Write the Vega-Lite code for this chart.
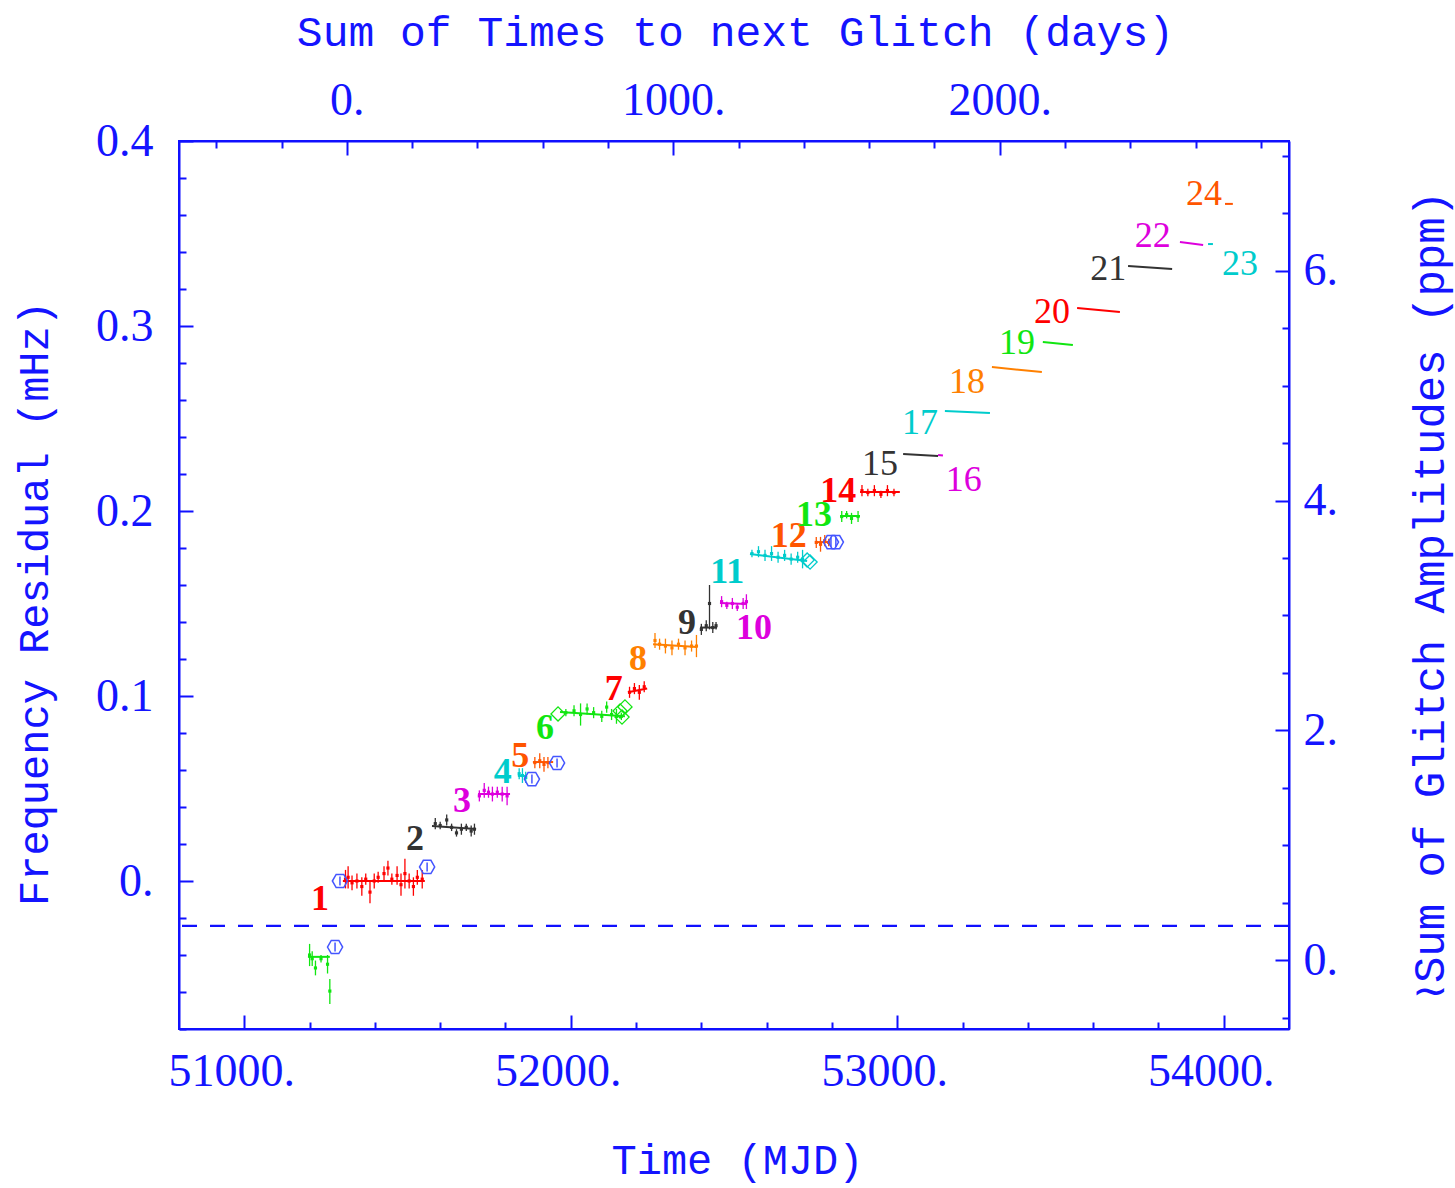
{
  "$schema": "https://vega.github.io/schema/vega-lite/v6.json",
  "width": 1110,
  "height": 888,
  "autosize": "none",
  "padding": {"left": 179, "top": 141, "right": 166, "bottom": 159},
  "background": "white",
  "config": {
    "view": {"stroke": "#1010ff", "strokeWidth": 2},
    "axis": {
      "grid": false,
      "domainColor": "#1010ff",
      "domainWidth": 2,
      "tickColor": "#1010ff",
      "tickWidth": 2,
      "labelColor": "#1414ff",
      "titleColor": "#1414ff",
      "labelFont": "Liberation Serif",
      "labelFontSize": 46,
      "labelFontWeight": "normal",
      "titleFont": "Liberation Mono",
      "titleFontSize": 42,
      "titleFontWeight": "normal",
      "labelFlush": false,
      "labelBound": false
    }
  },
  "datasets": {
    "fits": [
      {"seg": 0, "x1": 51195, "x2": 51262, "y1": -0.041, "y2": -0.041},
      {"seg": 1, "x1": 51302, "x2": 51553, "y1": 0.0, "y2": 0.0},
      {"seg": 2, "x1": 51575, "x2": 51710, "y1": 0.0297, "y2": 0.0281},
      {"seg": 3, "x1": 51716, "x2": 51814, "y1": 0.047, "y2": 0.047},
      {"seg": 4, "x1": 51838, "x2": 51866, "y1": 0.0568, "y2": 0.0568},
      {"seg": 5, "x1": 51884, "x2": 51946, "y1": 0.0643, "y2": 0.0643},
      {"seg": 6, "x1": 51967, "x2": 52166, "y1": 0.0914, "y2": 0.089},
      {"seg": 7, "x1": 52175, "x2": 52234, "y1": 0.102, "y2": 0.104},
      {"seg": 8, "x1": 52252, "x2": 52387, "y1": 0.128, "y2": 0.1265},
      {"seg": 9, "x1": 52396, "x2": 52448, "y1": 0.137, "y2": 0.137},
      {"seg": 10, "x1": 52457, "x2": 52540, "y1": 0.1503, "y2": 0.1497},
      {"seg": 11, "x1": 52549, "x2": 52724, "y1": 0.1768, "y2": 0.173},
      {"seg": 12, "x1": 52748, "x2": 52794, "y1": 0.1832, "y2": 0.1832},
      {"seg": 13, "x1": 52825, "x2": 52886, "y1": 0.1973, "y2": 0.1973},
      {"seg": 14, "x1": 52886, "x2": 53008, "y1": 0.2103, "y2": 0.2103},
      {"seg": 15, "x1": 53018, "x2": 53125, "y1": 0.2308, "y2": 0.2297},
      {"seg": 16, "x1": 53125, "x2": 53140, "y1": 0.2303, "y2": 0.23},
      {"seg": 17, "x1": 53146, "x2": 53284, "y1": 0.2541, "y2": 0.253},
      {"seg": 18, "x1": 53290, "x2": 53443, "y1": 0.2778, "y2": 0.2751},
      {"seg": 19, "x1": 53446, "x2": 53538, "y1": 0.2914, "y2": 0.2897},
      {"seg": 20, "x1": 53551, "x2": 53682, "y1": 0.3097, "y2": 0.3076},
      {"seg": 21, "x1": 53707, "x2": 53842, "y1": 0.3324, "y2": 0.3308},
      {"seg": 22, "x1": 53866, "x2": 53937, "y1": 0.3454, "y2": 0.3438},
      {"seg": 23, "x1": 53952, "x2": 53967, "y1": 0.3443, "y2": 0.3443},
      {"seg": 24, "x1": 54004, "x2": 54028, "y1": 0.366, "y2": 0.366}
    ],
    "pts": [
      {"seg": 0, "mjd": 51200, "mhz": -0.040, "lo": -0.046, "hi": -0.034},
      {"seg": 0, "mjd": 51208, "mhz": -0.042, "lo": -0.046, "hi": -0.038},
      {"seg": 0, "mjd": 51218, "mhz": -0.047, "lo": -0.051, "hi": -0.043},
      {"seg": 0, "mjd": 51235, "mhz": -0.042, "lo": -0.044, "hi": -0.040},
      {"seg": 0, "mjd": 51255, "mhz": -0.045, "lo": -0.050, "hi": -0.040},
      {"seg": 0, "mjd": 51262, "mhz": -0.0595, "lo": -0.0665, "hi": -0.053},
      {"seg": 1, "mjd": 51310, "mhz": 0.001, "lo": -0.004, "hi": 0.006},
      {"seg": 1, "mjd": 51318, "mhz": 0.002, "lo": -0.004, "hi": 0.008},
      {"seg": 1, "mjd": 51330, "mhz": -0.001, "lo": -0.005, "hi": 0.003},
      {"seg": 1, "mjd": 51345, "mhz": 0.0, "lo": -0.004, "hi": 0.004},
      {"seg": 1, "mjd": 51360, "mhz": -0.003, "lo": -0.008, "hi": 0.002},
      {"seg": 1, "mjd": 51372, "mhz": 0.001, "lo": -0.002, "hi": 0.004},
      {"seg": 1, "mjd": 51385, "mhz": -0.006, "lo": -0.012, "hi": 0.0},
      {"seg": 1, "mjd": 51398, "mhz": 0.0, "lo": -0.004, "hi": 0.004},
      {"seg": 1, "mjd": 51410, "mhz": 0.002, "lo": -0.001, "hi": 0.005},
      {"seg": 1, "mjd": 51428, "mhz": 0.004, "lo": 0.0, "hi": 0.008},
      {"seg": 1, "mjd": 51440, "mhz": 0.007, "lo": 0.003, "hi": 0.011},
      {"seg": 1, "mjd": 51452, "mhz": 0.001, "lo": -0.002, "hi": 0.004},
      {"seg": 1, "mjd": 51468, "mhz": 0.003, "lo": -0.002, "hi": 0.008},
      {"seg": 1, "mjd": 51480, "mhz": -0.002, "lo": -0.008, "hi": 0.004},
      {"seg": 1, "mjd": 51492, "mhz": 0.004, "lo": -0.004, "hi": 0.012},
      {"seg": 1, "mjd": 51505, "mhz": 0.0, "lo": -0.004, "hi": 0.004},
      {"seg": 1, "mjd": 51518, "mhz": -0.003, "lo": -0.008, "hi": 0.002},
      {"seg": 1, "mjd": 51530, "mhz": 0.002, "lo": -0.002, "hi": 0.006},
      {"seg": 1, "mjd": 51545, "mhz": 0.001, "lo": -0.004, "hi": 0.006},
      {"seg": 2, "mjd": 51585, "mhz": 0.031, "lo": 0.028, "hi": 0.034},
      {"seg": 2, "mjd": 51600, "mhz": 0.030, "lo": 0.028, "hi": 0.032},
      {"seg": 2, "mjd": 51620, "mhz": 0.033, "lo": 0.030, "hi": 0.036},
      {"seg": 2, "mjd": 51635, "mhz": 0.029, "lo": 0.027, "hi": 0.031},
      {"seg": 2, "mjd": 51650, "mhz": 0.026, "lo": 0.024, "hi": 0.028},
      {"seg": 2, "mjd": 51665, "mhz": 0.028, "lo": 0.025, "hi": 0.031},
      {"seg": 2, "mjd": 51680, "mhz": 0.029, "lo": 0.027, "hi": 0.031},
      {"seg": 2, "mjd": 51695, "mhz": 0.027, "lo": 0.024, "hi": 0.030},
      {"seg": 2, "mjd": 51705, "mhz": 0.028, "lo": 0.025, "hi": 0.031},
      {"seg": 3, "mjd": 51720, "mhz": 0.046, "lo": 0.043, "hi": 0.049},
      {"seg": 3, "mjd": 51735, "mhz": 0.049, "lo": 0.045, "hi": 0.053},
      {"seg": 3, "mjd": 51748, "mhz": 0.048, "lo": 0.045, "hi": 0.051},
      {"seg": 3, "mjd": 51760, "mhz": 0.047, "lo": 0.043, "hi": 0.051},
      {"seg": 3, "mjd": 51775, "mhz": 0.048, "lo": 0.045, "hi": 0.051},
      {"seg": 3, "mjd": 51790, "mhz": 0.047, "lo": 0.043, "hi": 0.051},
      {"seg": 3, "mjd": 51805, "mhz": 0.046, "lo": 0.041, "hi": 0.051},
      {"seg": 4, "mjd": 51842, "mhz": 0.058, "lo": 0.055, "hi": 0.061},
      {"seg": 4, "mjd": 51852, "mhz": 0.057, "lo": 0.053, "hi": 0.061},
      {"seg": 4, "mjd": 51862, "mhz": 0.056, "lo": 0.053, "hi": 0.059},
      {"seg": 5, "mjd": 51890, "mhz": 0.064, "lo": 0.061, "hi": 0.067},
      {"seg": 5, "mjd": 51905, "mhz": 0.065, "lo": 0.061, "hi": 0.069},
      {"seg": 5, "mjd": 51918, "mhz": 0.063, "lo": 0.059, "hi": 0.067},
      {"seg": 5, "mjd": 51930, "mhz": 0.064, "lo": 0.061, "hi": 0.067},
      {"seg": 6, "mjd": 51985, "mhz": 0.091, "lo": 0.089, "hi": 0.093},
      {"seg": 6, "mjd": 52010, "mhz": 0.092, "lo": 0.089, "hi": 0.095},
      {"seg": 6, "mjd": 52030, "mhz": 0.090, "lo": 0.084, "hi": 0.096},
      {"seg": 6, "mjd": 52050, "mhz": 0.093, "lo": 0.090, "hi": 0.096},
      {"seg": 6, "mjd": 52070, "mhz": 0.091, "lo": 0.088, "hi": 0.094},
      {"seg": 6, "mjd": 52095, "mhz": 0.089, "lo": 0.086, "hi": 0.092},
      {"seg": 6, "mjd": 52110, "mhz": 0.094, "lo": 0.091, "hi": 0.097},
      {"seg": 6, "mjd": 52125, "mhz": 0.090, "lo": 0.087, "hi": 0.093},
      {"seg": 6, "mjd": 52140, "mhz": 0.089, "lo": 0.085, "hi": 0.093},
      {"seg": 6, "mjd": 52155, "mhz": 0.089, "lo": 0.087, "hi": 0.091},
      {"seg": 7, "mjd": 52180, "mhz": 0.102, "lo": 0.099, "hi": 0.105},
      {"seg": 7, "mjd": 52195, "mhz": 0.104, "lo": 0.101, "hi": 0.107},
      {"seg": 7, "mjd": 52210, "mhz": 0.102, "lo": 0.098, "hi": 0.106},
      {"seg": 7, "mjd": 52225, "mhz": 0.105, "lo": 0.102, "hi": 0.108},
      {"seg": 8, "mjd": 52258, "mhz": 0.130, "lo": 0.126, "hi": 0.134},
      {"seg": 8, "mjd": 52272, "mhz": 0.128, "lo": 0.125, "hi": 0.131},
      {"seg": 8, "mjd": 52290, "mhz": 0.127, "lo": 0.123, "hi": 0.131},
      {"seg": 8, "mjd": 52310, "mhz": 0.126, "lo": 0.122, "hi": 0.130},
      {"seg": 8, "mjd": 52330, "mhz": 0.128, "lo": 0.125, "hi": 0.131},
      {"seg": 8, "mjd": 52350, "mhz": 0.126, "lo": 0.122, "hi": 0.130},
      {"seg": 8, "mjd": 52370, "mhz": 0.127, "lo": 0.124, "hi": 0.130},
      {"seg": 8, "mjd": 52385, "mhz": 0.127, "lo": 0.121, "hi": 0.133},
      {"seg": 9, "mjd": 52400, "mhz": 0.136, "lo": 0.133, "hi": 0.139},
      {"seg": 9, "mjd": 52415, "mhz": 0.138, "lo": 0.135, "hi": 0.141},
      {"seg": 9, "mjd": 52425, "mhz": 0.150, "lo": 0.136, "hi": 0.160},
      {"seg": 9, "mjd": 52435, "mhz": 0.137, "lo": 0.134, "hi": 0.140},
      {"seg": 9, "mjd": 52445, "mhz": 0.138, "lo": 0.136, "hi": 0.140},
      {"seg": 10, "mjd": 52462, "mhz": 0.151, "lo": 0.148, "hi": 0.154},
      {"seg": 10, "mjd": 52478, "mhz": 0.149, "lo": 0.147, "hi": 0.151},
      {"seg": 10, "mjd": 52495, "mhz": 0.150, "lo": 0.147, "hi": 0.153},
      {"seg": 10, "mjd": 52510, "mhz": 0.148, "lo": 0.146, "hi": 0.150},
      {"seg": 10, "mjd": 52528, "mhz": 0.150, "lo": 0.147, "hi": 0.153},
      {"seg": 10, "mjd": 52538, "mhz": 0.151, "lo": 0.147, "hi": 0.155},
      {"seg": 11, "mjd": 52555, "mhz": 0.177, "lo": 0.175, "hi": 0.179},
      {"seg": 11, "mjd": 52575, "mhz": 0.178, "lo": 0.175, "hi": 0.181},
      {"seg": 11, "mjd": 52595, "mhz": 0.176, "lo": 0.173, "hi": 0.179},
      {"seg": 11, "mjd": 52615, "mhz": 0.177, "lo": 0.173, "hi": 0.181},
      {"seg": 11, "mjd": 52635, "mhz": 0.175, "lo": 0.172, "hi": 0.178},
      {"seg": 11, "mjd": 52655, "mhz": 0.176, "lo": 0.173, "hi": 0.179},
      {"seg": 11, "mjd": 52675, "mhz": 0.174, "lo": 0.171, "hi": 0.177},
      {"seg": 11, "mjd": 52695, "mhz": 0.175, "lo": 0.172, "hi": 0.178},
      {"seg": 11, "mjd": 52710, "mhz": 0.174, "lo": 0.169, "hi": 0.179},
      {"seg": 12, "mjd": 52752, "mhz": 0.183, "lo": 0.180, "hi": 0.186},
      {"seg": 12, "mjd": 52765, "mhz": 0.182, "lo": 0.178, "hi": 0.186},
      {"seg": 12, "mjd": 52778, "mhz": 0.184, "lo": 0.181, "hi": 0.187},
      {"seg": 12, "mjd": 52790, "mhz": 0.183, "lo": 0.181, "hi": 0.185},
      {"seg": 13, "mjd": 52830, "mhz": 0.197, "lo": 0.194, "hi": 0.200},
      {"seg": 13, "mjd": 52845, "mhz": 0.198, "lo": 0.196, "hi": 0.200},
      {"seg": 13, "mjd": 52860, "mhz": 0.196, "lo": 0.193, "hi": 0.199},
      {"seg": 13, "mjd": 52880, "mhz": 0.197, "lo": 0.194, "hi": 0.200},
      {"seg": 14, "mjd": 52892, "mhz": 0.211, "lo": 0.208, "hi": 0.214},
      {"seg": 14, "mjd": 52910, "mhz": 0.210, "lo": 0.208, "hi": 0.212},
      {"seg": 14, "mjd": 52930, "mhz": 0.211, "lo": 0.208, "hi": 0.214},
      {"seg": 14, "mjd": 52950, "mhz": 0.209, "lo": 0.207, "hi": 0.211},
      {"seg": 14, "mjd": 52970, "mhz": 0.211, "lo": 0.208, "hi": 0.214},
      {"seg": 14, "mjd": 52990, "mhz": 0.210, "lo": 0.208, "hi": 0.212}
    ],
    "labels": [
      {"seg": 1, "label": "1", "mjd": 51232, "mhz": -0.0097},
      {"seg": 2, "label": "2", "mjd": 51523, "mhz": 0.0227},
      {"seg": 3, "label": "3", "mjd": 51667, "mhz": 0.0432},
      {"seg": 4, "label": "4", "mjd": 51792, "mhz": 0.0589},
      {"seg": 5, "label": "5", "mjd": 51845, "mhz": 0.0676},
      {"seg": 6, "label": "6", "mjd": 51921, "mhz": 0.0827},
      {"seg": 7, "label": "7", "mjd": 52132, "mhz": 0.1038},
      {"seg": 8, "label": "8", "mjd": 52206, "mhz": 0.12},
      {"seg": 9, "label": "9", "mjd": 52356, "mhz": 0.1395},
      {"seg": 10, "label": "10", "mjd": 52561, "mhz": 0.1368},
      {"seg": 11, "label": "11", "mjd": 52479, "mhz": 0.167},
      {"seg": 12, "label": "12", "mjd": 52668, "mhz": 0.1865},
      {"seg": 13, "label": "13", "mjd": 52745, "mhz": 0.1978},
      {"seg": 14, "label": "14", "mjd": 52819, "mhz": 0.2108},
      {"seg": 15, "label": "15", "mjd": 52947, "mhz": 0.2254},
      {"seg": 16, "label": "16", "mjd": 53204, "mhz": 0.2168},
      {"seg": 17, "label": "17", "mjd": 53070, "mhz": 0.2476},
      {"seg": 18, "label": "18", "mjd": 53214, "mhz": 0.2697},
      {"seg": 19, "label": "19", "mjd": 53367, "mhz": 0.2908},
      {"seg": 20, "label": "20", "mjd": 53474, "mhz": 0.3076},
      {"seg": 21, "label": "21", "mjd": 53646, "mhz": 0.3308},
      {"seg": 22, "label": "22", "mjd": 53783, "mhz": 0.3486},
      {"seg": 23, "label": "23", "mjd": 54050, "mhz": 0.3335},
      {"seg": 24, "label": "24", "mjd": 53940, "mhz": 0.3714}
    ],
    "hex": [
      {"mjd": 51278, "mhz": -0.0357},
      {"mjd": 51293, "mhz": 0.0},
      {"mjd": 51560, "mhz": 0.0076},
      {"mjd": 51881, "mhz": 0.0551},
      {"mjd": 51958, "mhz": 0.0638},
      {"mjd": 52797, "mhz": 0.1832},
      {"mjd": 52812, "mhz": 0.1832}
    ],
    "dia": [
      {"seg": 6, "mjd": 51961, "mhz": 0.0903},
      {"seg": 6, "mjd": 52151, "mhz": 0.0919},
      {"seg": 6, "mjd": 52166, "mhz": 0.0941},
      {"seg": 6, "mjd": 52157, "mhz": 0.0886},
      {"seg": 11, "mjd": 52724, "mhz": 0.1735},
      {"seg": 11, "mjd": 52733, "mhz": 0.1724}
    ]
  },
  "layer": [
    {
      "layer": [
        {
          "data": {"name": "fits"},
          "mark": {"type": "rule", "strokeWidth": 2},
          "encoding": {
            "x": {"field": "x1", "type": "quantitative", "scale": {"domain": [50800, 54200], "nice": false, "zero": false}, "axis": null},
            "x2": {"field": "x2"},
            "y": {"field": "y1", "type": "quantitative", "scale": {"domain": [-0.08, 0.4], "nice": false, "zero": false}, "axis": null},
            "y2": {"field": "y2"},
            "color": {
              "field": "seg", "type": "nominal", "legend": null,
              "scale": {
                "domain": [0, 1, 2, 3, 4, 5, 6, 7, 8, 9, 10, 11, 12, 13, 14, 15, 16, 17, 18, 19, 20, 21, 22, 23, 24],
                "range": ["#11e611", "#ff0000", "#333333", "#dd00dd", "#00cccc", "#ff5500", "#11e611", "#ff0000", "#ff8000", "#333333", "#dd00dd", "#00cccc", "#ff5500", "#11e611", "#ff0000", "#333333", "#dd00dd", "#00cccc", "#ff8000", "#11e611", "#ff0000", "#333333", "#dd00dd", "#00cccc", "#ff5500"]
              }
            }
          }
        },
        {
          "data": {"name": "pts"},
          "mark": {"type": "rule", "strokeWidth": 1.3},
          "encoding": {
            "x": {"field": "mjd", "type": "quantitative", "axis": null},
            "y": {"field": "lo", "type": "quantitative", "axis": null},
            "y2": {"field": "hi"},
            "color": {"field": "seg", "type": "nominal", "legend": null}
          }
        },
        {
          "data": {"name": "pts"},
          "mark": {"type": "point", "shape": "square", "filled": true, "size": 10, "opacity": 1},
          "encoding": {
            "x": {"field": "mjd", "type": "quantitative", "axis": null},
            "y": {"field": "mhz", "type": "quantitative", "axis": null},
            "color": {"field": "seg", "type": "nominal", "legend": null}
          }
        },
        {
          "data": {"name": "hex"},
          "mark": {"type": "point", "shape": "M-1,0L-0.5,-0.866L0.5,-0.866L1,0L0.5,0.866L-0.5,0.866ZM0,-0.6L0,0.6", "filled": false, "size": 230, "strokeWidth": 1.5, "color": "#4455ff", "opacity": 1},
          "encoding": {
            "x": {"field": "mjd", "type": "quantitative", "axis": null},
            "y": {"field": "mhz", "type": "quantitative", "axis": null}
          }
        },
        {
          "data": {"name": "dia"},
          "mark": {"type": "point", "shape": "diamond", "filled": false, "size": 200, "strokeWidth": 1.3, "opacity": 1},
          "encoding": {
            "x": {"field": "mjd", "type": "quantitative", "axis": null},
            "y": {"field": "mhz", "type": "quantitative", "axis": null},
            "color": {"field": "seg", "type": "nominal", "legend": null}
          }
        },
        {
          "data": {"name": "labels"},
          "mark": {"type": "text", "font": "Liberation Serif", "fontSize": 36, "fontWeight": "bold", "align": "center", "baseline": "middle"},
          "transform": [{"filter": "datum.seg <= 14"}],
          "encoding": {
            "x": {"field": "mjd", "type": "quantitative", "axis": null},
            "y": {"field": "mhz", "type": "quantitative", "axis": null},
            "text": {"field": "label"},
            "color": {"field": "seg", "type": "nominal", "legend": null}
          }
        },
        {
          "data": {"name": "labels"},
          "mark": {"type": "text", "font": "Liberation Serif", "fontSize": 36, "fontWeight": "normal", "align": "center", "baseline": "middle"},
          "transform": [{"filter": "datum.seg > 14"}],
          "encoding": {
            "x": {"field": "mjd", "type": "quantitative", "axis": null},
            "y": {"field": "mhz", "type": "quantitative", "axis": null},
            "text": {"field": "label"},
            "color": {"field": "seg", "type": "nominal", "legend": null}
          }
        },
        {
          "data": {"values": [{"ref": -0.0243}]},
          "mark": {"type": "rule", "color": "#1010ff", "strokeWidth": 2.2, "strokeDash": [15, 13]},
          "encoding": {
            "y": {"field": "ref", "type": "quantitative", "axis": null}
          }
        }
      ]
    },
    {
      "data": {"values": [{"t": 51000, "f": 0}]},
      "mark": {"type": "point", "opacity": 0},
      "encoding": {
        "x": {
          "field": "t", "type": "quantitative",
          "scale": {"domain": [50800, 54200], "nice": false, "zero": false},
          "axis": {
            "orient": "bottom",
            "title": "Time (MJD)",
            "values": [51000, 51200, 51400, 51600, 51800, 52000, 52200, 52400, 52600, 52800, 53000, 53200, 53400, 53600, 53800, 54000],
            "labelExpr": "datum.value % 1000 === 0 ? datum.value + '.' : ''",
            "tickSize": {"condition": {"test": "datum.value % 1000 === 0", "value": -14}, "value": -7},
            "labelPadding": 34,
            "labelOffset": -13,
            "labelOverlap": false,
            "titleX": 558,
            "titleY": 131,
            "titleBaseline": "middle",
            "titleAnchor": null
          }
        },
        "y": {
          "field": "f", "type": "quantitative",
          "scale": {"domain": [-0.08, 0.4], "nice": false, "zero": false},
          "axis": {
            "orient": "left",
            "title": "Frequency Residual (mHz)",
            "values": [-0.08, -0.06, -0.04, -0.02, 0, 0.02, 0.04, 0.06, 0.08, 0.1, 0.12, 0.14, 0.16, 0.18, 0.2, 0.22, 0.24, 0.26, 0.28, 0.3, 0.32, 0.34, 0.36, 0.38, 0.4],
            "labelExpr": "round(datum.value*100) % 10 === 0 ? (round(datum.value*100) === 0 ? '0.' : format(datum.value, '.1f')) : ''",
            "tickSize": {"condition": {"test": "round(datum.value*100) % 10 === 0", "value": -14}, "value": -7},
            "labelPadding": 40,
            "labelOverlap": false,
            "titleX": -145,
            "titleY": 462,
            "titleAngle": -90,
            "titleAlign": "center",
            "titleBaseline": "middle",
            "titleAnchor": null
          }
        }
      }
    },
    {
      "data": {"values": [{"days": 0, "ppm": 0}]},
      "mark": {"type": "point", "opacity": 0},
      "encoding": {
        "x": {
          "field": "days", "type": "quantitative",
          "scale": {"domain": [-514, 2886], "nice": false, "zero": false},
          "axis": {
            "orient": "top",
            "title": "Sum of Times to next Glitch (days)",
            "values": [-400, -200, 0, 200, 400, 600, 800, 1000, 1200, 1400, 1600, 1800, 2000, 2200, 2400, 2600, 2800],
            "labelExpr": "datum.value % 1000 === 0 ? datum.value + '.' : ''",
            "tickSize": {"condition": {"test": "datum.value % 1000 === 0", "value": -14}, "value": -7},
            "labelPadding": 31,
            "labelOverlap": false,
            "titleX": 556,
            "titleY": -109,
            "titleBaseline": "middle",
            "titleFontSize": 43,
            "titleAnchor": null
          }
        },
        "y": {
          "field": "ppm", "type": "quantitative",
          "scale": {"domain": [-0.6, 7.13], "nice": false, "zero": false},
          "axis": {
            "orient": "right",
            "title": "≀Sum of Glitch Amplitudes (ppm)",
            "values": [-0.5, 0, 0.5, 1, 1.5, 2, 2.5, 3, 3.5, 4, 4.5, 5, 5.5, 6, 6.5, 7],
            "labelExpr": "datum.value % 2 === 0 ? datum.value + '.' : ''",
            "tickSize": {"condition": {"test": "datum.value % 2 === 0", "value": -14}, "value": -7},
            "labelPadding": 28,
            "labelOverlap": false,
            "titleX": 141,
            "titleY": 454,
            "titleAngle": -90,
            "titleAlign": "center",
            "titleBaseline": "middle",
            "titleFontSize": 44,
            "titleAnchor": null
          }
        }
      }
    }
  ],
  "resolve": {
    "scale": {"x": "independent", "y": "independent"},
    "axis": {"x": "independent", "y": "independent"}
  }
}
